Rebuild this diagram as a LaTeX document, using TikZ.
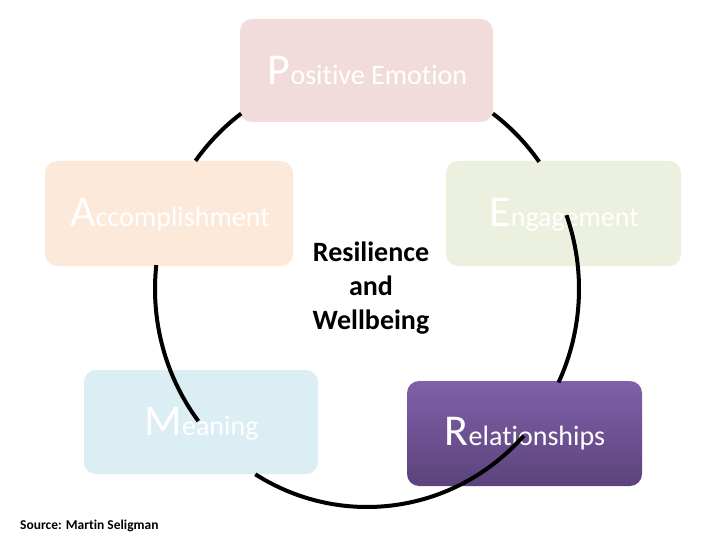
\documentclass[tikz,border=0pt]{standalone}
\usepackage{fontspec}
\setmainfont{Carlito}[RawFeature={-liga}]
\definecolor{pecol}{HTML}{F2DCDB}
\definecolor{accol}{HTML}{FDE9D9}
\definecolor{encol}{HTML}{EBF1DE}
\definecolor{mecol}{HTML}{DBEEF4}
\definecolor{reltop}{HTML}{8060A9}
\definecolor{relbot}{HTML}{5C437C}
\newcommand\firstch[1]{{\fontsize{44}{44}\selectfont #1}}
\newcommand\restch[1]{{\fontsize{28}{28}\selectfont #1}}
\begin{document}
\begin{tikzpicture}[x=1pt,y=-1pt,
  box/.style={rounded corners=12pt, inner sep=0pt, draw=none},
  lbl/.style={text=white, anchor=base, inner sep=0pt},
  ring/.style={line width=4pt, black}]
\fill[white] (0,0) rectangle (720,540);
\useasboundingbox (0,0) rectangle (720,540);
% boxes
\node[box, fill=pecol, minimum width=253pt, minimum height=103pt] (pe) at (366.5,70.5) {};
\node[box, fill=accol, minimum width=248pt, minimum height=105pt] (ac) at (169,213.5) {};
\node[box, fill=encol, minimum width=235pt, minimum height=105pt] (en) at (563.5,213.5) {};
\node[box, fill=mecol, minimum width=234pt, minimum height=104pt] (me) at (201,422) {};
\node[box, top color=reltop, bottom color=relbot, minimum width=235pt, minimum height=105pt] (re) at (524.5,433.5) {};
% labels
\node[lbl] (pet) at (367.5,85) {\firstch{P}\restch{ositive Emotion}};
\node[lbl] (act) at (170,226) {\firstch{A}\restch{ccomplishment}};
\node[lbl] (ent) at (564,226) {\firstch{E}\restch{ngagement}};
\node[lbl] (met) at (201.5,435) {\firstch{M}\restch{eaning}};
\node[lbl] (ret) at (525,445.5) {\firstch{R}\restch{elationships}};
% ring arcs
\draw[ring] plot[domain=216:233.6, samples=30] ({367+212*cos(\x)},{289+218*sin(\x)});
\draw[ring] plot[domain=306.4:324.3, samples=30] ({367+212*cos(\x)},{289+218*sin(\x)});
\draw[ring] plot[domain=-19.8:25.4, samples=60] ({367+212*cos(\x)},{289+218*sin(\x)});
\draw[ring] plot[domain=42.3:121.8, samples=80] ({367+212*cos(\x)},{289+218*sin(\x)});
\draw[ring] plot[domain=142.7:186.3, samples=60] ({367+212*cos(\x)},{289+218*sin(\x)});
% centre
\node[align=center, font=\bfseries\fontsize{28}{34}\selectfont, inner sep=0pt] (rw) at (371,288) {Resilience\\and\\Wellbeing};
\node[anchor=base west, font=\bfseries\fontsize{13.5}{15}\selectfont, inner sep=0pt] (src) at (20,529) {Source: Martin Seligman};
\end{tikzpicture}
\end{document}
